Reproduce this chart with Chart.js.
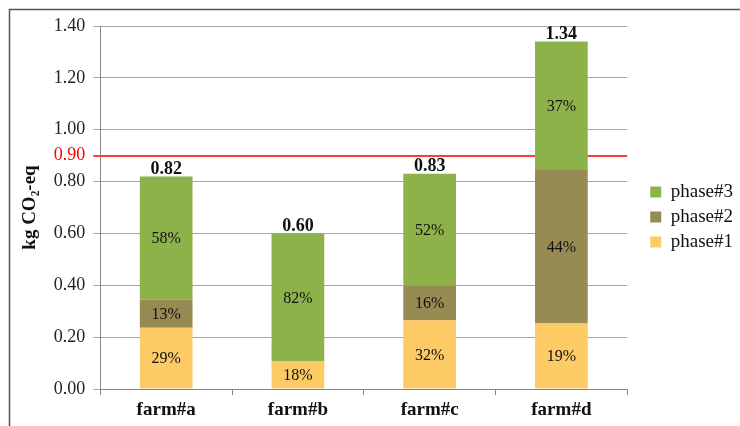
<!DOCTYPE html>
<html><head><meta charset="utf-8">
<script src="https://cdn.jsdelivr.net/npm/chart.js@4/dist/chart.umd.min.js"></script>
<style>html,body{margin:0;padding:0;background:#fff}canvas{display:block}</style>
</head><body>
<canvas id="c" width="740" height="426"></canvas>
<script>
const categories = ['farm#a', 'farm#b', 'farm#c', 'farm#d'];
const phase1 = [0.236, 0.106, 0.265, 0.253];
const phase2 = [0.108, 0, 0.133, 0.592];
const phase3 = [0.476, 0.494, 0.432, 0.495];
const totals = [0.82, 0.60, 0.83, 1.34];
const threshold = 0.90;
const yTicks = [0, 0.2, 0.4, 0.6, 0.8, 0.9, 1.0, 1.2, 1.4];

const SERIF = '"Liberation Serif", "DejaVu Serif", serif';
const isThr = v => Math.abs(v - threshold) < 1e-9;

const labelPlugin = {
  id: 'labels',
  afterLayout(chart) {
    const lg = chart.legend;
    if (lg) { lg.left += 17; lg.right += 17; lg.top -= 9; lg.bottom -= 9; }
  },
  beforeDraw(chart) {
    const ctx = chart.ctx;
    ctx.save();
    ctx.strokeStyle = '#555';
    ctx.lineWidth = 1.5;
    ctx.strokeRect(9.5, 9.5, 900, 600);
    ctx.restore();
  },
  beforeDatasetsDraw(chart) {
    const ctx = chart.ctx, ys = chart.scales.y, a = chart.chartArea;
    const y = Math.round(ys.getPixelForValue(threshold)) + 0.5;
    ctx.save();
    ctx.strokeStyle = '#ff3b3b';
    ctx.lineWidth = 1;
    ctx.beginPath();
    ctx.moveTo(a.left - 7, y);
    ctx.lineTo(a.right, y);
    ctx.stroke();
    ctx.restore();
  },
  afterDatasetsDraw(chart) {
    const ctx = chart.ctx;
    ctx.save();
    ctx.textAlign = 'center';
    ctx.textBaseline = 'middle';
    ctx.fillStyle = '#111';
    ctx.font = '16px ' + SERIF;
    chart.data.datasets.forEach((ds, di) => {
      const meta = chart.getDatasetMeta(di);
      meta.data.forEach((el, i) => {
        const v = ds.data[i];
        if (!v) return;
        const pct = Math.round(v / totals[i] * 100) + '%';
        const yc = (el.y + el.base) / 2;
        ctx.fillText(pct, el.x, yc + 1);
      });
    });
    ctx.font = 'bold 18px ' + SERIF;
    ctx.textBaseline = 'bottom';
    const ys = chart.scales.y;
    const top = chart.getDatasetMeta(2).data;
    top.forEach((el, i) => {
      ctx.fillText(totals[i].toFixed(2), el.x, ys.getPixelForValue(totals[i]) + 2);
    });
    ctx.restore();
  }
};

new Chart(document.getElementById('c'), {
  type: 'bar',
  data: {
    labels: categories,
    datasets: [
      { label: 'phase#1', data: phase1, backgroundColor: '#fdcb65', borderWidth: 0 },
      { label: 'phase#2', data: phase2, backgroundColor: '#978a52', borderWidth: 0 },
      { label: 'phase#3', data: phase3, backgroundColor: '#8db249', borderWidth: 0 }
    ]
  },
  options: {
    responsive: false,
    animation: false,
    layout: { padding: { left: 15, right: 14, top: 26, bottom: 0 } },
    datasets: { bar: { categoryPercentage: 1.0, barPercentage: 0.4 } },
    plugins: {
      legend: {
        position: 'right',
        reverse: true,
        labels: {
          boxWidth: 11, boxHeight: 11, padding: 6,
          color: '#111',
          font: { family: SERIF, size: 19 }
        }
      },
      tooltip: { enabled: false }
    },
    scales: {
      x: {
        stacked: true,
        grid: { display: true, drawOnChartArea: false, offset: true, tickLength: 6, color: '#888' },
        border: { color: '#888' },
        ticks: { color: '#111', font: { family: SERIF, size: 19, weight: 'bold', lineHeight: 1.0 }, padding: 6 }
      },
      y: {
        stacked: true,
        min: 0, max: 1.4,
        afterBuildTicks(scale) { scale.ticks = yTicks.map(v => ({ value: v })); },
        title: {
          display: true, text: 'kg CO\u2082-eq', color: '#111',
          font: { family: SERIF, size: 19, weight: 'bold' }, padding: 4
        },
        grid: {
          tickLength: 7,
          color: c => (c.tick && isThr(c.tick.value)) ? '#ff3b3b' : '#a6a6a6',
          lineWidth: 1
        },
        border: { color: '#888' },
        ticks: {
          autoSkip: false,
          padding: 8,
          font: { family: SERIF, size: 18 },
          color: c => isThr(c.tick.value) ? '#ff0000' : '#222',
          callback: v => Number(v).toFixed(2)
        }
      }
    }
  },
  plugins: [labelPlugin]
});
</script>
</body></html>
